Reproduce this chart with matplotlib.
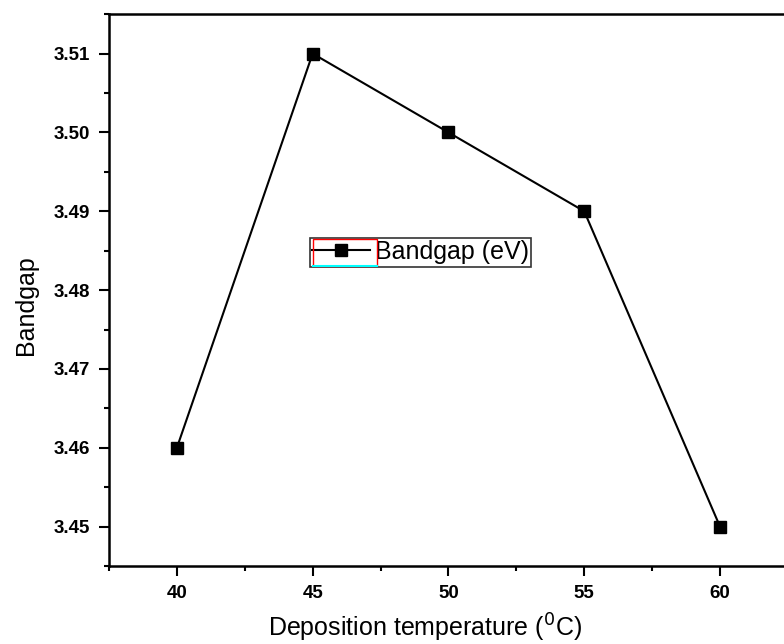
import matplotlib.pyplot as plt
from matplotlib.ticker import MultipleLocator
from matplotlib.patches import Rectangle

temps = [40, 45, 50, 55, 60]
bandgap = [3.46, 3.51, 3.50, 3.49, 3.45]

plt.rcParams['font.family'] = ['Liberation Sans', 'DejaVu Sans']

fig = plt.figure(figsize=(7.84, 6.44), dpi=100)
ax = fig.add_axes([0.139, 0.121, 0.866, 0.857])

ax.plot(temps, bandgap, color='black', lw=1.5, marker='s', ms=8,
        label='Bandgap (eV)')

ax.set_xlim(37.5, 62.5)
ax.set_ylim(3.445, 3.515)
ax.xaxis.set_major_locator(MultipleLocator(5))
ax.xaxis.set_minor_locator(MultipleLocator(2.5))
ax.yaxis.set_major_locator(MultipleLocator(0.01))
ax.yaxis.set_minor_locator(MultipleLocator(0.005))
ax.yaxis.set_major_formatter(plt.FuncFormatter(lambda v, p: f'{v:.2f}'))

ax.tick_params(which='major', direction='out', length=7.5, width=1.5,
               labelsize=13.5, pad=6)
ax.tick_params(which='minor', direction='out', length=3.8, width=1.5)
for lab in ax.get_xticklabels() + ax.get_yticklabels():
    lab.set_fontweight('bold')
for s in ax.spines.values():
    s.set_linewidth(1.8)

ax.set_xlabel('Deposition temperature ($^{0}$C)', fontsize=18, labelpad=9)
ax.xaxis.set_label_coords(0.465, -0.083, transform=ax.transAxes)
ax.xaxis.label.set_va('top')
ax.set_ylabel('Bandgap', fontsize=18, labelpad=12)
ax.yaxis.set_label_coords(-0.105, 0.473)

leg = ax.legend(loc='center', bbox_to_anchor=(0.459, 0.569), fontsize=18,
                fancybox=False, edgecolor='#333333', framealpha=1,
                handlelength=2.3, borderpad=0.1, handletextpad=0.2,
                borderaxespad=0)
leg.get_frame().set_linewidth(1.2)

# red/cyan box drawn round the legend symbol, as in the source figure
fig.canvas.draw()
fb = leg.get_frame().get_window_extent()
hb = leg.legend_handles[0].get_window_extent()
inv = fig.transFigure.inverted()
(x0, y0), (x1, y1) = inv.transform([(fb.x0 + 3, fb.y0 + 1), (hb.x1 + 2, fb.y1 - 1)])
fig.add_artist(Rectangle((x0, y0), x1 - x0, y1 - y0, transform=fig.transFigure,
                         fill=False, edgecolor='red', lw=1.0, zorder=10))
fig.add_artist(plt.Line2D([x0, x1], [y0, y0], transform=fig.transFigure,
                          color='cyan', lw=1.5, zorder=11))

fig.savefig('out.png', dpi=100)
